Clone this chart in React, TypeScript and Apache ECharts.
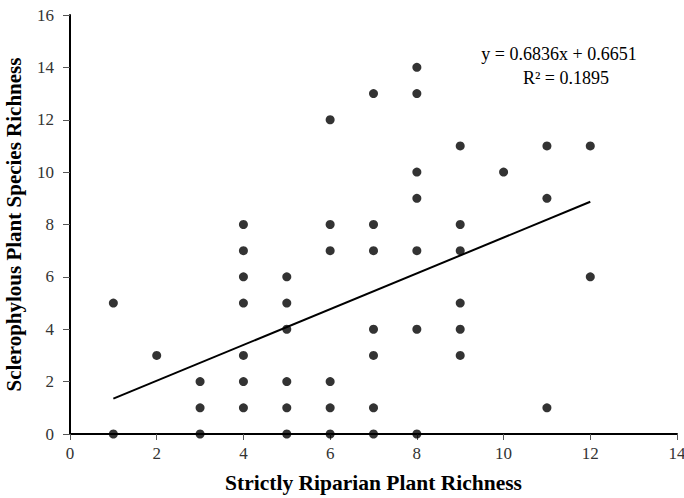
import React, { useEffect, useRef } from "react";
import * as echarts from "echarts";

const xValues = [1, 1, 2, 3, 3, 3, 4, 4, 4, 4, 4, 4, 4, 5, 5, 5, 5, 5, 5, 6, 6, 6, 6, 6, 6, 7, 7, 7, 7, 7, 7, 7, 8, 8, 8, 8, 8, 8, 8, 9, 9, 9, 9, 9, 9, 10, 11, 11, 11, 12, 12];
const yValues = [0, 5, 3, 0, 1, 2, 1, 2, 3, 5, 6, 7, 8, 0, 1, 2, 4, 5, 6, 0, 1, 2, 7, 8, 12, 0, 1, 3, 4, 7, 8, 13, 0, 4, 7, 9, 10, 13, 14, 3, 4, 5, 7, 8, 11, 10, 1, 9, 11, 6, 11];
const trendSlope = 0.6836;
const trendIntercept = 0.6651;
const trendRange = [1, 12];
const equationText = "y = 0.6836x + 0.6651";
const r2Text = "R² = 0.1895";
const xTitle = "Strictly Riparian Plant Richness";
const yTitle = "Sclerophylous Plant Species Richness";

export default function App() {
  const ref = useRef<HTMLDivElement>(null);
  useEffect(() => {
    if (!ref.current) return;
    const chart = echarts.init(ref.current, undefined, { renderer: "svg" });
    const points = xValues.map((x, i) => [x, yValues[i]]);
    const trend = trendRange.map((x) => [x, trendSlope * x + trendIntercept]);
    const font = "'Liberation Serif', 'Times New Roman', serif";
    chart.setOption({
      animation: false,
      backgroundColor: "#fff",
      grid: { left: 70, right: 7, top: 15, bottom: 64, containLabel: false, outerBoundsMode: "none" },
      xAxis: {
        type: "value",
        min: 0,
        max: 14,
        interval: 2,
        name: xTitle,
        nameLocation: "middle",
        nameGap: 38,
        nameTextStyle: { fontFamily: font, fontWeight: "bold", fontSize: 21.5, color: "#000" },
        axisLine: { show: true, lineStyle: { color: "#000", width: 2 } },
        axisTick: { show: true, length: 6, lineStyle: { color: "#555" } },
        axisLabel: { fontFamily: font, fontSize: 17, color: "#333", margin: 11 },
        splitLine: { show: false },
      },
      yAxis: {
        type: "value",
        min: 0,
        max: 16,
        interval: 2,
        name: yTitle,
        nameLocation: "middle",
        nameGap: 46,
        nameTextStyle: { fontFamily: font, fontWeight: "bold", fontSize: 21, color: "#000" },
        axisLine: { show: true, lineStyle: { color: "#000", width: 2 } },
        axisTick: { show: true, length: 7, lineStyle: { color: "#555" } },
        axisLabel: { fontFamily: font, fontSize: 17, color: "#333", margin: 16 },
        splitLine: { show: false },
      },
      series: [
        {
          type: "scatter",
          data: points,
          symbol: "circle",
          symbolSize: 9,
          itemStyle: { color: "#000" },
          z: 3,
        },
        {
          type: "line",
          data: trend,
          symbol: "none",
          lineStyle: { color: "#000", width: 2 },
          z: 2,
        },
      ],
      graphic: [
        {
          type: "text",
          x: 559,
          y: 45,
          style: { text: equationText, font: `18px ${font}`, fill: "#000", textAlign: "center" },
        },
        {
          type: "text",
          x: 566,
          y: 69,
          style: { text: r2Text, font: `18px ${font}`, fill: "#000", textAlign: "center" },
        },
      ],
    });
    return () => chart.dispose();
  }, []);
  return <div ref={ref} style={{ width: 684, height: 498, position: "absolute", left: 0, top: 0 }} />;
}
